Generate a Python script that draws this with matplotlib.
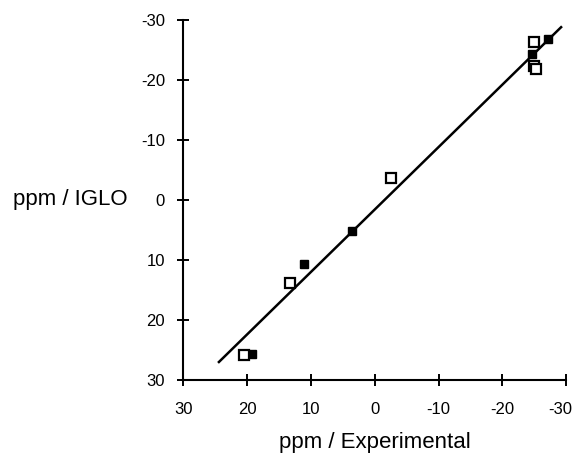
import matplotlib
matplotlib.use("Agg")
import matplotlib.pyplot as plt
from matplotlib.transforms import ScaledTranslation

plt.rcParams['font.family'] = ['Liberation Sans', 'DejaVu Sans']

# open squares (experimental vs IGLO shift)
open_x = [20.4, 13.3, -2.5, -24.9, -25.0, -25.2]
open_y = [25.8, 13.8, -3.6, -26.4, -22.4, -21.8]
# filled squares
fill_x = [19.2, 11.0, 3.6, -24.6, -27.2]
fill_y = [25.6, 10.7, 5.2, -24.4, -26.8]
# regression line end points
line_x = [24.4, -29.2]
line_y = [27.0, -28.8]

ticks = [30, 20, 10, 0, -10, -20, -30]

fig = plt.figure(figsize=(5.76, 4.54), dpi=100)
ax = fig.add_axes([0.318, 0.163, 0.665, 0.793])

ax.plot(line_x, line_y, color='black', lw=1.8)
ax.plot(fill_x, fill_y, 's', color='black', ms=5.5, mec='black')
ax.plot(open_x, open_y, 's', mfc='white', mec='black', mew=1.6, ms=7.5)

ax.set_xlim(30, -30)
ax.set_ylim(30, -30)
ax.set_xticks(ticks)
ax.set_yticks(ticks)
ax.set_xticklabels([str(t) for t in ticks])
ax.set_yticklabels([str(t) for t in ticks])

for s in ['top', 'right']:
    ax.spines[s].set_visible(False)
for s in ['left', 'bottom']:
    ax.spines[s].set_linewidth(1.5)
ax.tick_params(direction='inout', length=8, width=1.4, labelsize=12)
ax.tick_params(axis='x', pad=12)
ax.tick_params(axis='y', pad=9)

# last x label sits against the right edge, nudge it in a little
last = ax.get_xticklabels()[-1]
last.set_transform(last.get_transform() + ScaledTranslation(-4 / 72, 0, fig.dpi_scale_trans))

ax.set_xlabel('ppm / Experimental', fontsize=16, labelpad=11)
ax.set_ylabel('ppm / IGLO', fontsize=16, rotation=0, ha='right', va='center')
ax.yaxis.set_label_coords(-0.144, 0.5)

fig.savefig('out.png', dpi=100)
